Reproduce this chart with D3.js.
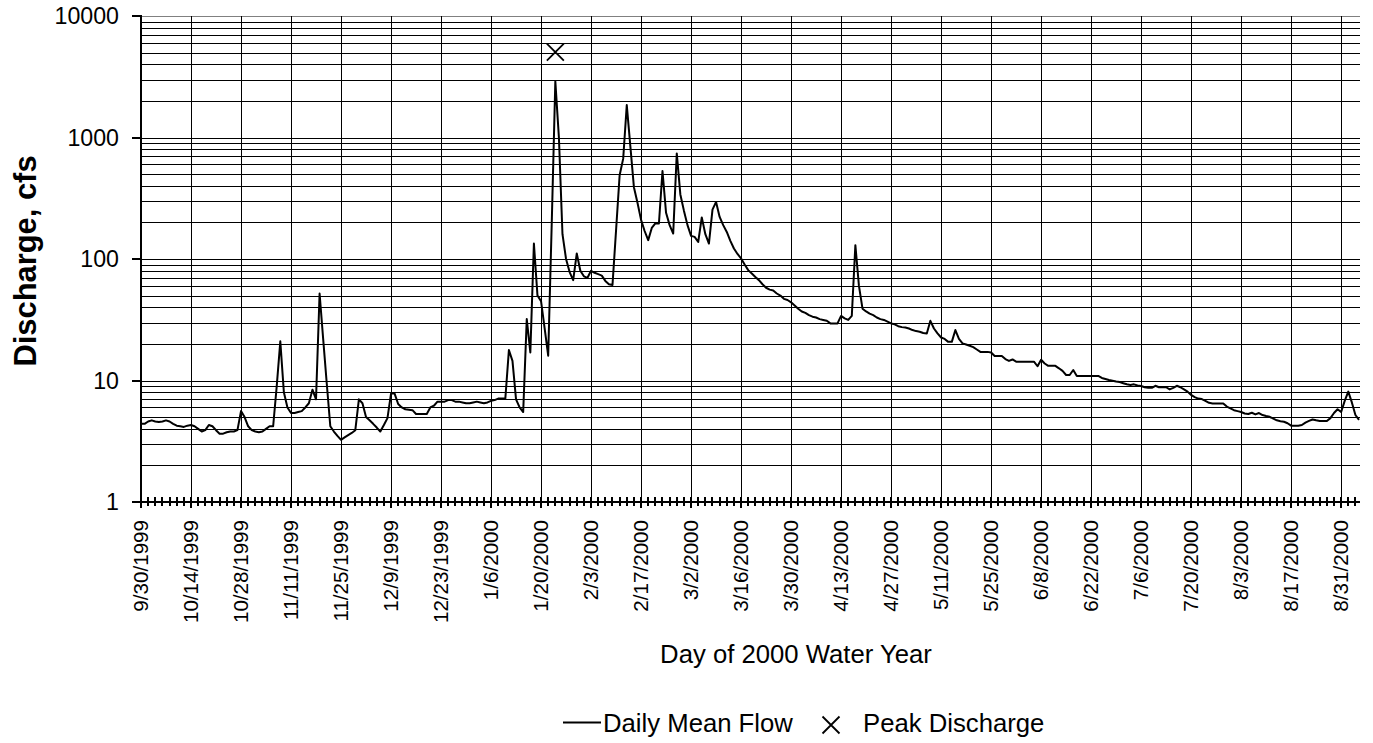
<!DOCTYPE html>
<html>
<head>
<meta charset="utf-8">
<script src="https://cdn.jsdelivr.net/npm/d3@7"></script>
<style>
  html, body { margin: 0; padding: 0; background: #fff; }
  svg { display: block; font-family: "Liberation Sans", Arial, sans-serif; }
</style>
</head>
<body>
<svg id="chart" width="1373" height="743"></svg>
<script>
// data

const startDate = '9/30/1999'

// daily mean flow, cfs, one value per day from startDate
const dailyFlow = [
  4.4, 4.4, 4.6, 4.7, 4.6, 4.55, 4.6, 4.7, 4.6, 4.4,
  4.25, 4.2, 4.15, 4.25, 4.3, 4.2, 4.0, 3.8, 3.9, 4.3,
  4.2, 3.9, 3.65, 3.65, 3.75, 3.8, 3.8, 3.9, 5.6, 5.0,
  4.2, 3.9, 3.8, 3.75, 3.8, 4.0, 4.2, 4.2, 9.0, 21,
  8.0, 6.0, 5.4, 5.4, 5.5, 5.6, 6.0, 6.5, 8.4, 7.0,
  52, 22, 9.5, 4.2, 3.8, 3.5, 3.25, 3.4, 3.55, 3.7,
  3.9, 7.0, 6.5, 5.0, 4.7, 4.4, 4.1, 3.8, 4.3, 4.9,
  7.8, 7.8, 6.4, 6.0, 5.8, 5.75, 5.7, 5.3, 5.3, 5.3,
  5.3, 6.0, 6.2, 6.7, 6.7, 6.7, 6.9, 6.9, 6.7, 6.7,
  6.6, 6.5, 6.5, 6.6, 6.7, 6.6, 6.5, 6.6, 6.8, 6.9,
  7.1, 7.1, 7.1, 17.8, 14.5, 7.0, 6.0, 5.5, 32, 17,
  134, 50, 45, 27, 16, 200, 2900, 1000, 160, 100,
  78, 67, 111, 80, 72, 70, 80, 77, 75, 73,
  66, 62, 61, 172, 489, 670, 1850, 850, 390, 290,
  210, 170, 143, 180, 196, 196, 530, 240, 190, 162,
  740, 340, 250, 190, 155, 152, 138, 220, 160, 134,
  255, 295, 222, 190, 167, 141, 122, 110, 101, 90,
  81, 76, 71, 67, 62, 58, 56, 55, 52, 50,
  47, 46, 44, 41.5, 39, 37, 36, 34.5, 33.5, 33,
  32, 31.5, 31, 29.5, 29.5, 29.5, 34, 32.5, 31.5, 34,
  130, 60, 39, 37, 35.5, 34.5, 33, 32, 31.5, 30.5,
  29.5, 29, 28, 27.5, 27.3, 26.8, 26, 25.5, 25.2, 24.6,
  24.4, 31, 26.8, 24.4, 22.6, 22, 20.8, 20.8, 26, 22,
  20.2, 19.8, 19.3, 18.8, 18, 17.2, 17.2, 17.2, 17, 15.9,
  15.9, 15.9, 15, 14.5, 14.9, 14.3, 14.3, 14.3, 14.3, 14.3,
  14.3, 13.1, 14.8, 13.8, 13.2, 13.2, 13.2, 12.6, 12, 11.1,
  11.1, 12.2, 10.9, 10.9, 10.9, 10.9, 10.9, 10.9, 10.9, 10.5,
  10.3, 10.1, 9.95, 9.8, 9.7, 9.5, 9.3, 9.2, 9.3, 9.1,
  9.0, 8.8, 8.7, 8.7, 9.05, 8.8, 8.8, 8.8, 8.45, 8.7,
  9.05, 8.8, 8.45, 8.1, 7.6, 7.3, 7.1, 7.03, 6.8, 6.55,
  6.48, 6.48, 6.48, 6.48, 6.1, 5.9, 5.7, 5.6, 5.5, 5.35,
  5.3, 5.43, 5.26, 5.4, 5.2, 5.1, 5.03, 4.85, 4.7, 4.62,
  4.58, 4.45, 4.25, 4.24, 4.24, 4.3, 4.5, 4.65, 4.78, 4.7,
  4.64, 4.64, 4.64, 4.9, 5.4, 5.8, 5.5, 6.8, 8.1, 6.6,
  5.2, 4.75
]

const peakDates = ['1/24/2000']
const peakFlows = [5050]

const dateTicks = [
  '9/30/1999', '10/14/1999', '10/28/1999', '11/11/1999', '11/25/1999',
  '12/9/1999', '12/23/1999', '1/6/2000', '1/20/2000', '2/3/2000',
  '2/17/2000', '3/2/2000', '3/16/2000', '3/30/2000', '4/13/2000',
  '4/27/2000', '5/11/2000', '5/25/2000', '6/8/2000', '6/22/2000',
  '7/6/2000', '7/20/2000', '8/3/2000', '8/17/2000', '8/31/2000'
]
const flowTicks = [1, 10, 100, 1000, 10000]

const LEFT = 141, RIGHT = 1360, TOP = 16, BOTTOM = 502
const FONT = '"Liberation Sans", Arial, sans-serif'

const parse = d3.utcParse('%m/%d/%Y')
const t0 = parse(startDate)

const flow = dailyFlow.map( (v,i) => ({ date: d3.utcDay.offset(t0, i), value: v }) )
const peaks = peakDates.map( (d,i) => ({ date: parse(d), value: peakFlows[i] }) )

const x = d3.scaleUtc()
  .domain([t0, flow[flow.length - 1].date])
  .range([LEFT, 1359])

const y = d3.scaleLog()
  .domain([1, 10000])
  .range([BOTTOM, TOP])

const crisp = (v) => Math.round(v) + 0.5

const svg = d3.select('#chart')

// grid

const grid = svg.append('g').attr('shape-rendering', 'crispEdges')

let gridValues = []
flowTicks.slice(0, -1).forEach( (p) => {
  d3.range(1, 10).forEach( (m) => { if(p * m > 1) gridValues.push(p * m) })
})
gridValues.push(10000)

grid.selectAll('line.h')
  .data(gridValues)
  .join('line')
    .attr('class', 'h')
    .attr('x1', LEFT).attr('x2', RIGHT)
    .attr('y1', (d) => crisp(y(d))).attr('y2', (d) => crisp(y(d)))
    .attr('stroke', (d) => d === 10000 ? '#808080' : '#000')
    .attr('stroke-width', 1)

grid.selectAll('line.v')
  .data(dateTicks.slice(1).map(parse))
  .join('line')
    .attr('class', 'v')
    .attr('x1', (d) => crisp(x(d))).attr('x2', (d) => crisp(x(d)))
    .attr('y1', TOP).attr('y2', BOTTOM)
    .attr('stroke', '#000')
    .attr('stroke-width', 1)

// axes

const axes = svg.append('g').attr('shape-rendering', 'crispEdges').attr('stroke', '#000')

axes.append('line')
  .attr('x1', LEFT).attr('x2', LEFT).attr('y1', TOP - 1).attr('y2', BOTTOM + 1)
  .attr('stroke-width', 2)
axes.append('line')
  .attr('x1', LEFT - 8).attr('x2', RIGHT).attr('y1', BOTTOM).attr('y2', BOTTOM)
  .attr('stroke-width', 2)

// y ticks
axes.selectAll('line.yt')
  .data(flowTicks)
  .join('line')
    .attr('class', 'yt')
    .attr('x1', LEFT - 9).attr('x2', LEFT)
    .attr('y1', (d) => Math.round(y(d))).attr('y2', (d) => Math.round(y(d)))
    .attr('stroke-width', 2)

// minor x ticks every 2 days, crossing the axis
const minorDays = d3.range(0, dailyFlow.length, 2).map( (i) => d3.utcDay.offset(t0, i) )
axes.selectAll('line.xm')
  .data(minorDays)
  .join('line')
    .attr('class', 'xm')
    .attr('x1', (d) => Math.round(x(d))).attr('x2', (d) => Math.round(x(d)))
    .attr('y1', BOTTOM - 5).attr('y2', BOTTOM + 4)
    .attr('stroke-width', 2)

// major x ticks
axes.selectAll('line.xt')
  .data(dateTicks.map(parse))
  .join('line')
    .attr('class', 'xt')
    .attr('x1', (d) => Math.round(x(d))).attr('x2', (d) => Math.round(x(d)))
    .attr('y1', BOTTOM - 4).attr('y2', BOTTOM + 6)
    .attr('stroke-width', 2)

// tick labels

svg.append('g')
  .attr('font-size', 23.2)
  .attr('text-anchor', 'end')
  .selectAll('text')
  .data(flowTicks)
  .join('text')
    .attr('x', 119)
    .attr('y', (d) => y(d))
    .attr('dy', '0.35em')
    .text((d) => d)

svg.append('g')
  .attr('font-size', 20.6)
  .attr('text-anchor', 'end')
  .selectAll('text')
  .data(dateTicks)
  .join('text')
    .attr('transform', (d) => 'translate(' + x(parse(d)) + ',520) rotate(-90)')
    .attr('dy', '0.35em')
    .text((d) => d)

// titles

svg.append('text')
  .attr('transform', 'translate(36,261) rotate(-90)')
  .attr('text-anchor', 'middle')
  .attr('font-size', 30.9)
  .attr('font-weight', 'bold')
  .text('Discharge, cfs')

svg.append('text')
  .attr('x', 796).attr('y', 663)
  .attr('text-anchor', 'middle')
  .attr('font-size', 25.7)
  .text('Day of 2000 Water Year')

// series

const line = d3.line()
  .x((d) => x(d.date))
  .y((d) => y(d.value))

svg.append('path')
  .datum(flow)
  .attr('d', line)
  .attr('fill', 'none')
  .attr('stroke', '#000')
  .attr('stroke-width', 2)
  .attr('stroke-linejoin', 'round')

function cross(g, cx, cy, r) {
  g.append('path')
    .attr('d', 'M' + (cx - r) + ',' + (cy - r) + 'L' + (cx + r) + ',' + (cy + r) +
               'M' + (cx - r) + ',' + (cy + r) + 'L' + (cx + r) + ',' + (cy - r))
    .attr('stroke', '#000')
    .attr('stroke-width', 1.8)
    .attr('fill', 'none')
}

const peakLayer = svg.append('g')
peaks.forEach( (p) => cross(peakLayer, x(p.date), y(p.value), 8.5) )

// legend

const legend = svg.append('g').attr('font-size', 25.7)
legend.append('line')
  .attr('x1', 563).attr('x2', 601).attr('y1', 722.5).attr('y2', 722.5)
  .attr('stroke', '#000').attr('stroke-width', 2)
legend.append('text').attr('x', 603).attr('y', 732).text('Daily Mean Flow')
cross(legend, 831, 725, 8.5)
legend.append('text').attr('x', 863).attr('y', 732).text('Peak Discharge')
</script>
</body>
</html>
